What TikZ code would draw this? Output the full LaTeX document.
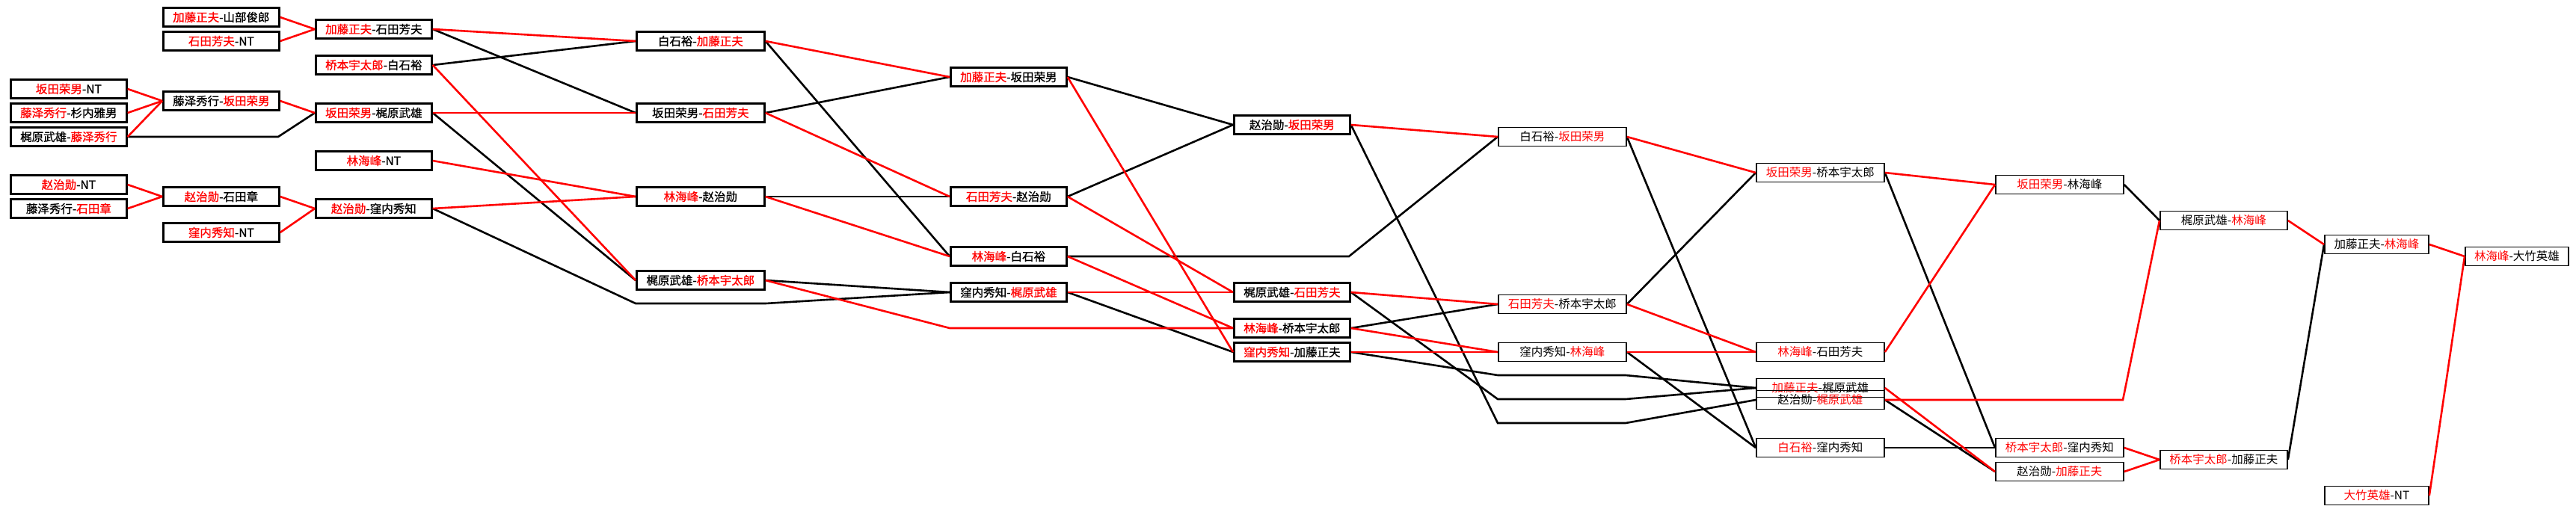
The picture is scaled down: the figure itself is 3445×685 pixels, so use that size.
\documentclass[tikz,border=0pt]{standalone}
\usepackage{fontspec}
\newfontfamily\cjk{Noto Sans CJK SC}
\newfontfamily\cjkheavy[FakeBold=1]{Noto Sans CJK SC}
\newcommand{\Win}[1]{\textcolor{red}{#1}}

\begin{document}
\begin{tikzpicture}[
  x=1pt, y=-1pt,
  MatchBox/.style = {draw, anchor=west, line width=2.7pt, minimum width=155pt,
    minimum height=25pt, inner sep=0pt, font=\cjkheavy\fontsize{15.5}{16}\selectfont},
  MatchBoxThin/.style = {draw, anchor=west, line width=1.8pt, minimum width=171pt,
    minimum height=25pt, inner sep=0pt, font=\cjk\fontsize{15.5}{16}\selectfont}
  ]
  \useasboundingbox (0,0) rectangle (3445,685);

  % round 1
  \node[MatchBox] (a1) at (13,119) {\Win{坂田荣男}-NT};
  \node[MatchBox] (a2) at (13,151) {\Win{藤泽秀行}-杉内雅男};
  \node[MatchBox] (a3) at (13,183) {梶原武雄-\Win{藤泽秀行}};
  \node[MatchBox] (a4) at (13,247) {\Win{赵治勋}-NT};
  \node[MatchBox] (a5) at (13,279) {藤泽秀行-\Win{石田章}};

  % round 2
  \node[MatchBox] (b1) at (217,23)  {\Win{加藤正夫}-山部俊郎};
  \node[MatchBox] (b2) at (217,55)  {\Win{石田芳夫}-NT};
  \node[MatchBox] (b3) at (217,135) {藤泽秀行-\Win{坂田荣男}};
  \node[MatchBox] (b4) at (217,263) {\Win{赵治勋}-石田章};
  \node[MatchBox] (b5) at (217,311) {\Win{窪内秀知}-NT};

  % round 3
  \node[MatchBox] (c1) at (421,39)  {\Win{加藤正夫}-石田芳夫};
  \node[MatchBox] (c2) at (421,87)  {\Win{桥本宇太郎}-白石裕};
  \node[MatchBox] (c3) at (421,151) {\Win{坂田荣男}-梶原武雄};
  \node[MatchBox] (c4) at (421,215) {\Win{林海峰}-NT};
  \node[MatchBox] (c5) at (421,279) {\Win{赵治勋}-窪内秀知};

  % round 4
  \node[MatchBox, minimum width=171pt] (d1) at (850,55)  {白石裕-\Win{加藤正夫}};
  \node[MatchBox, minimum width=171pt] (d2) at (850,151) {坂田荣男-\Win{石田芳夫}};
  \node[MatchBox, minimum width=171pt] (d3) at (850,263) {\Win{林海峰}-赵治勋};
  \node[MatchBox, minimum width=171pt] (d4) at (850,375) {梶原武雄-\Win{桥本宇太郎}};

  % round 5
  \node[MatchBox] (e1) at (1270,103) {\Win{加藤正夫}-坂田荣男};
  \node[MatchBox] (e2) at (1270,263) {\Win{石田芳夫}-赵治勋};
  \node[MatchBox] (e3) at (1270,343) {\Win{林海峰}-白石裕};
  \node[MatchBox] (e4) at (1270,391) {窪内秀知-\Win{梶原武雄}};

  % round 6
  \node[MatchBox] (f1) at (1649,167) {赵治勋-\Win{坂田荣男}};
  \node[MatchBox] (f2) at (1649,391) {梶原武雄-\Win{石田芳夫}};
  \node[MatchBox] (f3) at (1649,439) {\Win{林海峰}-桥本宇太郎};
  \node[MatchBox] (f4) at (1649,471) {\Win{窪内秀知}-加藤正夫};

  % round 7
  \node[MatchBoxThin] (g1) at (2003,183) {白石裕-\Win{坂田荣男}};
  \node[MatchBoxThin] (g2) at (2003,407) {\Win{石田芳夫}-桥本宇太郎};
  \node[MatchBoxThin] (g3) at (2003,471) {窪内秀知-\Win{林海峰}};

  % round 8
  \node[MatchBoxThin] (h1) at (2348,231) {\Win{坂田荣男}-桥本宇太郎};
  \node[MatchBoxThin] (h2) at (2348,471) {\Win{林海峰}-石田芳夫};
  \node[MatchBoxThin] (h3) at (2348,519) {\Win{加藤正夫}-梶原武雄};
  \node[MatchBoxThin] (h4) at (2348,535) {赵治勋-\Win{梶原武雄}};
  \node[MatchBoxThin] (h5) at (2348,599) {\Win{白石裕}-窪内秀知};

  % round 9
  \node[MatchBoxThin] (i1) at (2668,247) {\Win{坂田荣男}-林海峰};
  \node[MatchBoxThin] (i2) at (2668,599) {\Win{桥本宇太郎}-窪内秀知};
  \node[MatchBoxThin] (i3) at (2668,631) {赵治勋-\Win{加藤正夫}};

  % final rounds
  \node[MatchBoxThin, minimum width=170pt] (j1) at (2888,295) {梶原武雄-\Win{林海峰}};
  \node[MatchBoxThin, minimum width=170pt] (j2) at (2888,615) {\Win{桥本宇太郎}-加藤正夫};
  \node[MatchBoxThin, minimum width=139pt] (k1) at (3108,327) {加藤正夫-\Win{林海峰}};
  \node[MatchBoxThin, minimum width=139pt] (k2) at (3108,663) {\Win{大竹英雄}-NT};
  \node[MatchBoxThin, minimum width=138pt] (l1) at (3296,343) {\Win{林海峰}-大竹英雄};

  % bends where a line skips a round
  \coordinate (byB)  at (372,183);
  \coordinate (byD1) at (850,406);
  \coordinate (byD2) at (1024,406);
  \coordinate (byE)  at (1270,439);
  \coordinate (byF)  at (1804,343);
  \coordinate (byG1) at (2003,502);
  \coordinate (byG2) at (2174,502);
  \coordinate (byG3) at (2003,534);
  \coordinate (byG4) at (2174,534);
  \coordinate (byG5) at (2003,566);
  \coordinate (byG6) at (2174,566);
  \coordinate (byI)  at (2839,535);

  \tikzset{LoseEdge/.style = {black, line width=2.6pt, line join=miter}}
  \tikzset{WinEdge/.style  = {red, line width=2.6pt, line join=miter}}

  \draw[LoseEdge] (a3.east) -- (byB) -- (c3.west);
  \draw[LoseEdge] (c1.east) -- (d2.west);
  \draw[LoseEdge] (c2.east) -- (d1.west);
  \draw[LoseEdge] (c3.east) -- (d4.west);
  \draw[LoseEdge] (c5.east) -- (byD1) -- (byD2) -- (e4.west);
  \draw[LoseEdge] (d1.east) -- (e3.west);
  \draw[LoseEdge] (d2.east) -- (e1.west);
  \draw[LoseEdge] (d3.east) -- (e2.west);
  \draw[LoseEdge] (d4.east) -- (e4.west);
  \draw[LoseEdge] (e1.east) -- (f1.west);
  \draw[LoseEdge] (e2.east) -- (f1.west);
  \draw[LoseEdge] (e3.east) -- (byF) -- (g1.west);
  \draw[LoseEdge] (e4.east) -- (f4.west);
  \draw[LoseEdge] (f1.east) -- (byG5) -- (byG6) -- (h4.west);
  \draw[LoseEdge] (f2.east) -- (byG3) -- (byG4) -- (h3.west);
  \draw[LoseEdge] (f3.east) -- (g2.west);
  \draw[LoseEdge] (f4.east) -- (byG1) -- (byG2) -- (h3.west);
  \draw[LoseEdge] (g1.east) -- (h5.west);
  \draw[LoseEdge] (g2.east) -- (h1.west);
  \draw[LoseEdge] (g3.east) -- (h5.west);
  \draw[LoseEdge] (h1.east) -- (i2.west);
  \draw[LoseEdge] (h4.east) -- (i3.west);
  \draw[LoseEdge] (h5.east) -- (i2.west);
  \draw[LoseEdge] (i1.east) -- (j1.west);
  \draw[LoseEdge] (j2.east) -- (k1.west);

  \draw[WinEdge] (a1.east) -- (b3.west);
  \draw[WinEdge] (a2.east) -- (b3.west);
  \draw[WinEdge] (a3.east) -- (b3.west);
  \draw[WinEdge] (a4.east) -- (b4.west);
  \draw[WinEdge] (a5.east) -- (b4.west);
  \draw[WinEdge] (b1.east) -- (c1.west);
  \draw[WinEdge] (b2.east) -- (c1.west);
  \draw[WinEdge] (b3.east) -- (c3.west);
  \draw[WinEdge] (b4.east) -- (c5.west);
  \draw[WinEdge] (b5.east) -- (c5.west);
  \draw[WinEdge] (c1.east) -- (d1.west);
  \draw[WinEdge] (c2.east) -- (d4.west);
  \draw[WinEdge] (c3.east) -- (d2.west);
  \draw[WinEdge] (c4.east) -- (d3.west);
  \draw[WinEdge] (c5.east) -- (d3.west);
  \draw[WinEdge] (d1.east) -- (e1.west);
  \draw[WinEdge] (d2.east) -- (e2.west);
  \draw[WinEdge] (d3.east) -- (e3.west);
  \draw[WinEdge] (d4.east) -- (byE) -- (f3.west);
  \draw[WinEdge] (e1.east) -- (f4.west);
  \draw[WinEdge] (e2.east) -- (f2.west);
  \draw[WinEdge] (e3.east) -- (f3.west);
  \draw[WinEdge] (e4.east) -- (f2.west);
  \draw[WinEdge] (f1.east) -- (g1.west);
  \draw[WinEdge] (f2.east) -- (g2.west);
  \draw[WinEdge] (f3.east) -- (g3.west);
  \draw[WinEdge] (f4.east) -- (g3.west);
  \draw[WinEdge] (g1.east) -- (h1.west);
  \draw[WinEdge] (g2.east) -- (h2.west);
  \draw[WinEdge] (g3.east) -- (h2.west);
  \draw[WinEdge] (h1.east) -- (i1.west);
  \draw[WinEdge] (h2.east) -- (i1.west);
  \draw[WinEdge] (h3.east) -- (i3.west);
  \draw[WinEdge] (h4.east) -- (byI) -- (j1.west);
  \draw[WinEdge] (i2.east) -- (j2.west);
  \draw[WinEdge] (i3.east) -- (j2.west);
  \draw[WinEdge] (j1.east) -- (k1.west);
  \draw[WinEdge] (k1.east) -- (l1.west);
  \draw[WinEdge] (k2.east) -- (l1.west);

\end{tikzpicture}
\end{document}
